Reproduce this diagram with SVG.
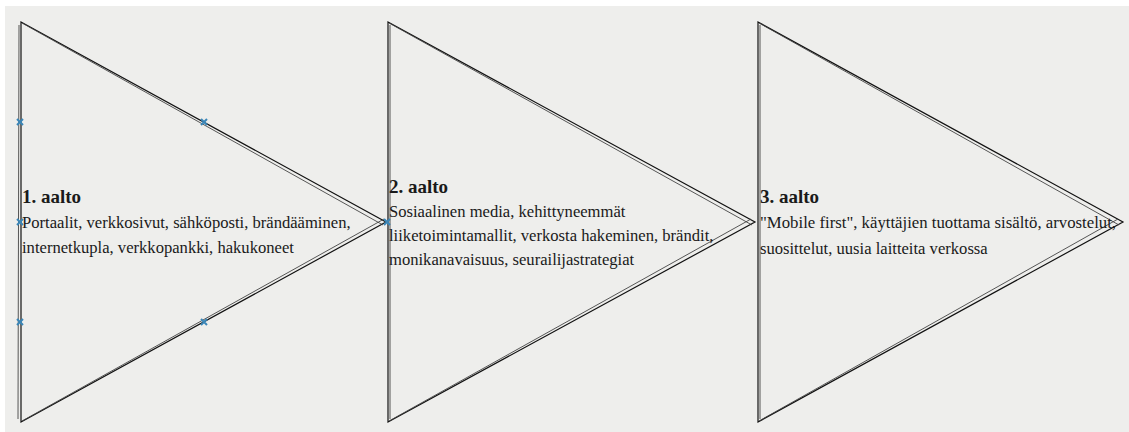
<svg xmlns="http://www.w3.org/2000/svg" width="1129" height="432" viewBox="0 0 1129 432">
<style>
.tri{fill:none;stroke:#111;stroke-width:1.2;stroke-linejoin:miter}
.tri2{fill:none;stroke:#444;stroke-width:0.9}
.t{font-family:"Liberation Serif","Times New Roman",serif;fill:#1a1a1a}
.h{font-size:19px;font-weight:bold}
.b{font-size:16.6px}
.mk{stroke:#3a86b8;stroke-width:2}
</style>
<rect x="0" y="0" width="1129" height="432" fill="#ffffff"/>
<rect x="5" y="6" width="1124" height="426" fill="#eeeeec"/>
<g id="node1">
<path class="tri" d="M21,22 L386,222 L21,422 Z"/>
<path class="tri2" d="M22,23 L383,225 M22,421 L384,219 M19,25 L18,419"/>
<text class="t h" x="22" y="203">1. aalto</text>
<text class="t b" x="22" y="228">Portaalit, verkkosivut, sähköposti, brändääminen,</text>
<text class="t b" x="22" y="253">internetkupla, verkkopankki, hakukoneet</text>
</g>
<g id="node2">
<path class="tri" d="M388,22 L755,222 L388,422 Z"/>
<path class="tri2" d="M389,23 L752,225 M389,421 L751,219 M390,25 L390,419"/>
<text class="t h" x="389" y="193">2. aalto</text>
<text class="t b" x="389" y="217">Sosiaalinen media, kehittyneemmät</text>
<text class="t b" x="389" y="241">liiketoimintamallit, verkosta hakeminen, brändit,</text>
<text class="t b" x="389" y="265">monikanavaisuus, seurailijastrategiat</text>
</g>
<g id="node3">
<path class="tri" d="M758,22 L1123,222 L758,422 Z"/>
<path class="tri2" d="M759,23 L1119,225 M759,421 L1118,219 M760,25 L760,419"/>
<text class="t h" x="760" y="203">3. aalto</text>
<text class="t b" x="760" y="228" textLength="356" lengthAdjust="spacingAndGlyphs">"Mobile first", käyttäjien tuottama sisältö, arvostelut,</text>
<text class="t b" x="760" y="254">suosittelut, uusia laitteita verkossa</text>
</g>
<g id="handles">
<path class="mk" d="M17,119 l6,6 m0,-6 l-6,6 M201,119 l6,6 m0,-6 l-6,6 M17,219 l6,6 m0,-6 l-6,6 M17,319 l6,6 m0,-6 l-6,6 M201,319 l6,6 m0,-6 l-6,6 M384,219 l6,6 m0,-6 l-6,6"/>
</g>
</svg>
